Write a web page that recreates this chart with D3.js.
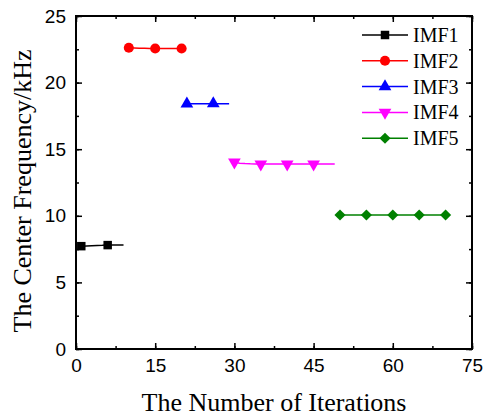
<!DOCTYPE html>
<html>
<head>
<meta charset="utf-8">
<script src="https://cdn.jsdelivr.net/npm/d3@7"></script>
<style>
    body { margin: 0; background: #fff; }
    svg { display: block; }
</style>
</head>
<body>
<svg id="chart" width="483" height="416"></svg>
<script>
// data: one value per iteration, markers every 5th point
var seriesNames = ["IMF1", "IMF2", "IMF3", "IMF4", "IMF5"];
var seriesColors = ["#000000", "#ff0000", "#0000ff", "#ff00ff", "#008000"];
var seriesSymbols = ["square", "circle", "triangle", "triangleDown", "diamond"];

var imf1Iter = [1, 2, 3, 4, 5, 6, 7, 8, 9];
var imf1Val = [7.72, 7.74, 7.76, 7.77, 7.78, 7.8, 7.8, 7.8, 7.8];

var imf2Iter = [10, 11, 12, 13, 14, 15, 16, 17, 18, 19, 20];
var imf2Val = [22.62, 22.6, 22.58, 22.57, 22.56, 22.56, 22.56, 22.56, 22.56, 22.56, 22.56];

var imf3Iter = [21, 22, 23, 24, 25, 26, 27, 28, 29];
var imf3Val = [18.41, 18.42, 18.42, 18.42, 18.42, 18.42, 18.42, 18.42, 18.42];

var imf4Iter = [30, 31, 32, 33, 34, 35, 36, 37, 38, 39, 40, 41, 42, 43, 44, 45, 46, 47, 48, 49];
var imf4Val = [14.02, 13.95, 13.92, 13.9, 13.89, 13.88, 13.88, 13.88, 13.88, 13.88,
               13.88, 13.88, 13.88, 13.88, 13.88, 13.88, 13.88, 13.88, 13.88, 13.88];

var imf5Iter = [50, 51, 52, 53, 54, 55, 56, 57, 58, 59, 60, 61, 62, 63, 64, 65, 66, 67, 68, 69, 70];
var imf5Val = [10.06, 10.06, 10.06, 10.06, 10.06, 10.06, 10.06, 10.06, 10.06, 10.06, 10.06,
               10.06, 10.06, 10.06, 10.06, 10.06, 10.06, 10.06, 10.06, 10.06, 10.06];

var xTicks = [0, 15, 30, 45, 60, 75];
var yTicks = [0, 5, 10, 15, 20, 25];

var allIters = [imf1Iter, imf2Iter, imf3Iter, imf4Iter, imf5Iter];
var allVals = [imf1Val, imf2Val, imf3Val, imf4Val, imf5Val];

var svg = d3.select("#chart");
var margin = { top: 16, right: 11, bottom: 67, left: 76 };
var width = 483 - margin.left - margin.right;
var height = 416 - margin.top - margin.bottom;

var x = d3.scaleLinear().domain([0, 75]).range([0, width]);
var y = d3.scaleLinear().domain([0, 25]).range([height, 0]);

var g = svg.append("g").attr("transform", "translate(" + margin.left + "," + margin.top + ")");

var symbolTypes = {
    square: d3.symbolSquare,
    circle: d3.symbolCircle,
    triangle: d3.symbolTriangle,
    triangleDown: d3.symbolTriangle,
    diamond: d3.symbolSquare
};
var symbolSizes = { square: 72, circle: 80, triangle: 70, triangleDown: 70, diamond: 62 };
var symbolTurn = { square: "", circle: "", triangle: "", triangleDown: " rotate(180)", diamond: " rotate(45)" };

function symbolPath(kind) {
    return d3.symbol().type(symbolTypes[kind]).size(symbolSizes[kind])();
}

// series lines and markers
var line = d3.line()
    .x(d => x(d[0]))
    .y(d => y(d[1]));

seriesNames.forEach((name, i) => {
    var pts = allIters[i].map((it, j) => [it, allVals[i][j]]);
    var kind = seriesSymbols[i];
    g.append("path")
        .datum(pts)
        .attr("d", line)
        .attr("fill", "none")
        .attr("stroke", seriesColors[i])
        .attr("stroke-width", 1.5);

    var marks = pts.filter((d, j) => j % 5 === 0);
    g.selectAll(".m" + i)
        .data(marks)
        .enter()
        .append("path")
        .attr("class", "m" + i)
        .attr("d", symbolPath(kind))
        .attr("transform", d => "translate(" + x(d[0]) + "," + y(d[1]) + ")" + symbolTurn[kind])
        .attr("fill", seriesColors[i]);
});

// axes with inward ticks, on all four sides
var xMinor = d3.range(0, 76, 7.5);
var yMinor = d3.range(0, 25.1, 2.5);

function drawAxis(axis, major, minor, transform, showLabels) {
    var a = g.append("g").attr("transform", transform);
    a.call(axis.tickValues(minor).tickSize(-3).tickFormat(""));
    a.select(".domain").remove();
    var b = g.append("g").attr("transform", transform);
    b.call(axis.tickValues(major).tickSize(-6).tickPadding(10).tickFormat(showLabels ? d3.format("d") : ""));
    b.select(".domain").remove();
    b.selectAll("text")
        .attr("font-family", "'Liberation Sans', Arial, sans-serif")
        .attr("font-size", 19)
        .attr("fill", "#000");
    g.selectAll(".tick line").attr("stroke", "#000").attr("stroke-width", 1.5);
    return b;
}

drawAxis(d3.axisBottom(x), xTicks, xMinor, "translate(0," + height + ")", true);
drawAxis(d3.axisTop(x), xTicks, xMinor, "translate(0,0)", false);
drawAxis(d3.axisLeft(y), yTicks, yMinor, "translate(0,0)", true);
drawAxis(d3.axisRight(y), yTicks, yMinor, "translate(" + width + ",0)", false);

// frame
g.append("rect")
    .attr("width", width)
    .attr("height", height)
    .attr("fill", "none")
    .attr("stroke", "#000")
    .attr("stroke-width", 2);

// axis titles
svg.append("text")
    .attr("x", margin.left + width / 2)
    .attr("y", 411)
    .attr("text-anchor", "middle")
    .attr("font-family", "'Liberation Serif', 'Times New Roman', serif")
    .attr("font-size", 26)
    .text("The Number of Iterations");

svg.append("text")
    .attr("transform", "translate(31,191) rotate(-90)")
    .attr("text-anchor", "middle")
    .attr("font-family", "'Liberation Serif', 'Times New Roman', serif")
    .attr("font-size", 26)
    .text("The Center Frequency/kHz");

// legend
var legend = svg.append("g").attr("transform", "translate(362,35)");
seriesNames.forEach((name, i) => {
    var kind = seriesSymbols[i];
    var row = legend.append("g").attr("transform", "translate(0," + i * 25.8 + ")");
    row.append("line")
        .attr("x1", 0).attr("x2", 46)
        .attr("stroke", seriesColors[i])
        .attr("stroke-width", 1.5);
    row.append("path")
        .attr("d", symbolPath(kind))
        .attr("transform", "translate(23,0)" + symbolTurn[kind])
        .attr("fill", seriesColors[i]);
    row.append("text")
        .attr("x", 51)
        .attr("y", 7)
        .attr("font-family", "'Liberation Serif', 'Times New Roman', serif")
        .attr("font-size", 20)
        .text(name);
});
</script>
</body>
</html>
